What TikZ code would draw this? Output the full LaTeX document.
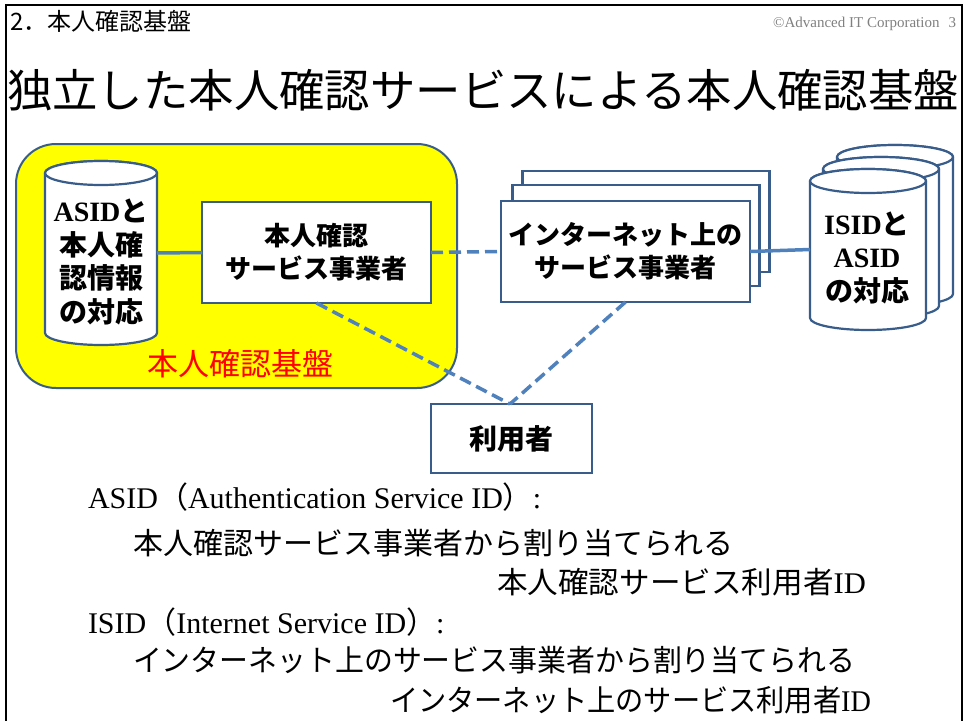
\documentclass[tikz,border=0pt]{standalone}
\usepackage{graphicx}
\usepackage{fontspec}
\setmainfont{Liberation Serif}
\newfontfamily\jp{Noto Sans CJK JP}
\definecolor{boxblue}{RGB}{56,93,138}
\definecolor{linkblue}{RGB}{79,129,189}
\definecolor{cgray}{RGB}{128,128,128}
\definecolor{baseyellow}{RGB}{255,255,0}
\definecolor{basered}{RGB}{255,0,0}
\newcommand\drawcyl[5]{%
  \path[cylfill] (#1-#4,#2+#5) -- (#1-#4,#3-#5)
    arc[start angle=180,end angle=360,x radius=#4pt,y radius=#5pt]
    -- (#1+#4,#2+#5)
    arc[start angle=0,end angle=180,x radius=#4pt,y radius=#5pt] -- cycle;
  \path[cylfill] (#1,#2+#5) ellipse[x radius=#4pt,y radius=#5pt];
}
\begin{document}
\begin{tikzpicture}[x=1pt,y=-1pt,
  every node/.style={inner sep=0pt,outer sep=0pt},
  frame/.style={line width=2pt,draw=black},
  basebox/.style={draw=boxblue,line width=2pt,fill=baseyellow,rounded corners=40pt,minimum width=441pt,minimum height=244pt},
  entity/.style={draw=boxblue,line width=2.2pt,fill=white,align=center},
  cylfill/.style={draw=boxblue,line width=2.2pt,fill=white},
  cylbox/.style={minimum width=116pt,minimum height=161pt},
  solidlink/.style={draw=linkblue,line width=3.5pt},
  dashlink/.style={draw=linkblue,line width=3.5pt,dash pattern=on 12pt off 6pt},
  entfont/.style={font=\jp\bfseries\fontsize{26}{33}\selectfont},
  cylfont/.style={font=\bfseries\fontsize{28}{33.5}\selectfont,align=center},
  bodyjp/.style={font=\fontsize{30}{36}\selectfont,anchor=base west},
  bodylat/.style={font=\fontsize{30}{36}\selectfont,anchor=base west},
]
\useasboundingbox (0,0) rectangle (965,720);
\fill[white] (0,0) rectangle (965,720);
% frame
\draw[frame] (6,721) -- (6,5) -- (962,5) -- (962,721);
% header
\node[font=\jp\fontsize{24}{28}\selectfont,anchor=base west] (hdr) at (10,30) {2．本人確認基盤};
\node[font=\fontsize{15}{18}\selectfont,text=cgray,anchor=base east] (copy) at (956,27) {©Advanced IT Corporation\hspace{9pt}3};
% title
\node[font=\jp\fontsize{45.4}{52}\selectfont,anchor=base west] (title) at (7,107) {独立した本人確認サービスによる本人確認基盤};
% base
\node[basebox] (base) at (236.5,266) {};
\node[font=\jp\fontsize{31}{36}\selectfont,text=basered] (baselabel) at (240,364) {本人確認基盤};
% left cylinder
\drawcyl{101}{161}{345}{56}{12}
\node[minimum width=112pt,minimum height=184pt] (cylA) at (101,253) {};
\node[cylfont] (cylAtext) at (101,262) {ASID{\jp と}\\{\jp 本人確}\\{\jp 認情報}\\{\jp の対応}};
% auth box
\node[entity,entfont,minimum width=229pt,minimum height=101pt] (boxA) at (316.5,252.5) {本人確認\\サービス事業者};
% internet boxes
\node[entity,minimum width=247pt,minimum height=101pt] (boxI3) at (646,221.5) {};
\node[entity,minimum width=247pt,minimum height=101pt] (boxI2) at (636,235.5) {};
\node[entity,entfont,minimum width=249pt,minimum height=101pt] (boxI) at (625.5,251.5) {インターネット上の\\サービス事業者};
% right cylinders
\drawcyl{895}{145}{306}{58}{12}
\drawcyl{881}{157}{318}{58}{12}
\drawcyl{868}{169}{330}{58}{12}
\node[cylbox] (cylI) at (868,249.5) {};
\node[cylfont] (cylItext) at (867,257.5) {ISID{\jp と}\\ASID\\{\jp の対応}};
% user
\node[entity,font=\jp\bfseries\fontsize{28}{33}\selectfont,minimum width=161pt,minimum height=69pt] (user) at (511.5,438.5) {利用者};
\coordinate (meet) at (510,404);
% links
\draw[solidlink] (cylA.east) -- (boxA.west);
\draw[dashlink] (boxA.east) -- (boxI.west);
\draw[solidlink] (boxI.east) -- (cylI.west);
\draw[dashlink] (boxA.south) -- (meet);
\draw[dashlink] (boxI.south) -- (meet);
% text block
\node[bodylat] (l1) at (88,508) {ASID{\jp （}Authentication Service ID{\jp ）}:};
\node[bodyjp] (l2) at (133,554) {\jp 本人確認サービス事業者から割り当てられる};
\node[bodyjp] (l3) at (497,593) {\scalebox{1.02}[1]{{\jp 本人確認サービス利用者}ID}};
\node[bodylat] (l4) at (88,633) {ISID{\jp （}Internet Service ID{\jp ）}:};
\node[bodyjp] (l5) at (133,671) {\scalebox{0.963}[1]{\jp インターネット上のサービス事業者から割り当てられる}};
\node[bodyjp] (l6) at (390,711) {\scalebox{0.94}[1]{{\jp インターネット上のサービス利用者}ID}};
\end{tikzpicture}
\end{document}
